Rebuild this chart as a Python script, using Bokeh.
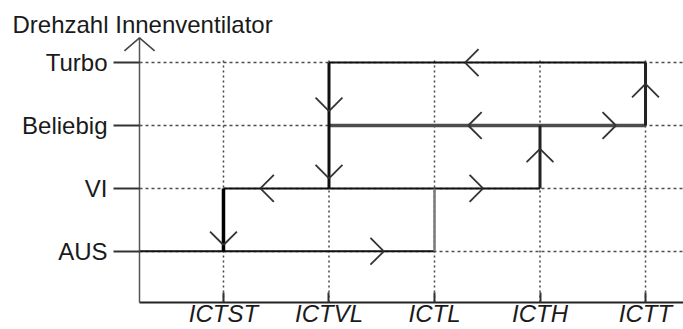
import math
from bokeh.plotting import figure
from bokeh.models import Range1d, FixedTicker
from bokeh.embed import file_html
from bokeh.resources import INLINE

# ---------------- data ----------------
title_text = "Drehzahl Innenventilator"
levels = ["AUS", "VI", "Beliebig", "Turbo"]            # y categories (bottom -> top)
thresholds = ["ICTST", "ICTVL", "ICTL", "ICTH", "ICTT"]  # x categories (left -> right)

# horizontal runs of the hysteresis diagram: level, from threshold (None = y axis), to threshold
h_level = ["AUS", "VI", "Beliebig", "Turbo"]
h_from = [None, "ICTST", "ICTVL", "ICTVL"]
h_to = ["ICTL", "ICTH", "ICTT", "ICTT"]

# vertical runs: threshold, from level, to level
v_thr = ["ICTST", "ICTVL", "ICTL", "ICTH", "ICTT"]
v_from = ["VI", "Turbo", "AUS", "VI", "Beliebig"]
v_to = ["AUS", "VI", "VI", "Beliebig", "Turbo"]

# direction arrows on the runs (position along the run, in threshold/level units)
arr_x = [2.52, 1.0, 2.0, 2.0, 1.35, 3.29, 3.32, 4.72, 4.0, 3.46, 5.0]
arr_y = [1.0, 1.10, 3.23, 2.16, 2.0, 4.0, 3.0, 3.0, 2.63, 2.0, 3.66]
arr_dir = ["right", "down", "down", "down", "left", "left", "left", "right", "up", "right", "up"]

# ---------------- styles ----------------
h_width = [2, 2, 3.5, 2]
h_color = ["#111111", "#111111", "#4d4d4d", "#111111"]
v_width = [3.5, 3, 2.5, 3, 3]
v_color = ["#000000", "#111111", "#7a7a7a", "#222222", "#222222"]
FONT = "Liberation Sans"

xi = {t: i + 1 for i, t in enumerate(thresholds)}
yi = {l: i + 1 for i, l in enumerate(levels)}

x_start, x_end = 0.204, 5.36
y_start, y_end = 0.186, 4.399

p = figure(width=683, height=329, output_backend="svg", toolbar_location=None,
           x_range=Range1d(x_start, x_end), y_range=Range1d(y_start, y_end),
           min_border_left=139, min_border_right=0, min_border_top=37, min_border_bottom=27,
           outline_line_color=None, background_fill_color="white", border_fill_color="white")

# title
p.title.text = title_text
p.title.text_font = FONT
p.title.text_font_size = "24px"
p.title.text_font_style = "normal"
p.title.text_color = "#1a1a1a"
p.title.align = "left"
p.title.offset = -127
p.title.standoff = 0

# axes
yt = FixedTicker(ticks=[yi[l] for l in levels])
xt = FixedTicker(ticks=[xi[t] for t in thresholds])
p.yaxis.ticker = yt
p.xaxis.ticker = xt
p.yaxis.major_label_overrides = {yi[l]: l for l in levels}
p.xaxis.major_label_overrides = {xi[t]: t for t in thresholds}

for ax in (p.xaxis[0], p.yaxis[0]):
    ax.major_label_text_font = FONT
    ax.major_label_text_color = "#1a1a1a"
    ax.minor_tick_line_color = None
    ax.major_tick_line_color = "#333333"
    ax.major_tick_line_width = 2

p.yaxis.major_label_text_font_size = "24px"
p.yaxis.major_tick_out = 26
p.yaxis.major_tick_in = 0
p.yaxis.major_label_standoff = 6
p.yaxis.axis_line_color = "#555555"
p.yaxis.axis_line_width = 1.5

p.xaxis.major_label_text_font_size = "24px"
p.xaxis.major_label_text_font_style = "italic"
p.xaxis.major_tick_out = 0
p.xaxis.major_tick_in = 10
p.xaxis.major_label_standoff = -3
p.xaxis.axis_line_color = "#222222"
p.xaxis.axis_line_width = 2

# grid: dotted horizontal lines at levels, dotted vertical lines at thresholds
p.xgrid.visible = False
p.ygrid.ticker = yt
p.ygrid.grid_line_color = "#4d4d4d"
p.ygrid.grid_line_width = 1.5
p.ygrid.grid_line_dash = "3 3"

grid_top = yi["Turbo"] + 0.06
xs = [xi[t] for t in thresholds]
p.segment(x0=xs, y0=[y_start] * len(xs), x1=xs, y1=[grid_top] * len(xs),
          line_color="#444444", line_width=1.5, line_dash="2 3")

# y-axis arrow head
for ang in (math.radians(221), math.radians(319)):
    r = p.ray(x=[x_start], y=[y_end - 0.005], length=20, length_units="screen",
              angle=ang, line_color="#444444", line_width=1.5)
    r.level = "overlay"

# hysteresis runs
hx0 = [x_start if f is None else xi[f] for f in h_from]
hx1 = [xi[t] for t in h_to]
hy = [yi[l] for l in h_level]
p.segment(x0=hx0, y0=hy, x1=hx1, y1=hy, line_color=h_color, line_width=h_width)

vx = [xi[t] for t in v_thr]
vy0 = [yi[l] for l in v_from]
vy1 = [yi[l] for l in v_to]
p.segment(x0=vx, y0=vy0, x1=vx, y1=vy1, line_color=v_color, line_width=v_width)

# chevron arrows: two short rays from each tip, pointing backwards at +-45 deg
back = {"right": 180, "left": 0, "up": 270, "down": 90}
for a in (-45, 45):
    angs = [math.radians(back[d] + a) for d in arr_dir]
    r = p.ray(x=arr_x, y=arr_y, length=19, length_units="screen", angle=angs,
              line_color="#333333", line_width=1.8)
    r.level = "overlay"

open("out.html", "w").write(file_html(p, INLINE))
